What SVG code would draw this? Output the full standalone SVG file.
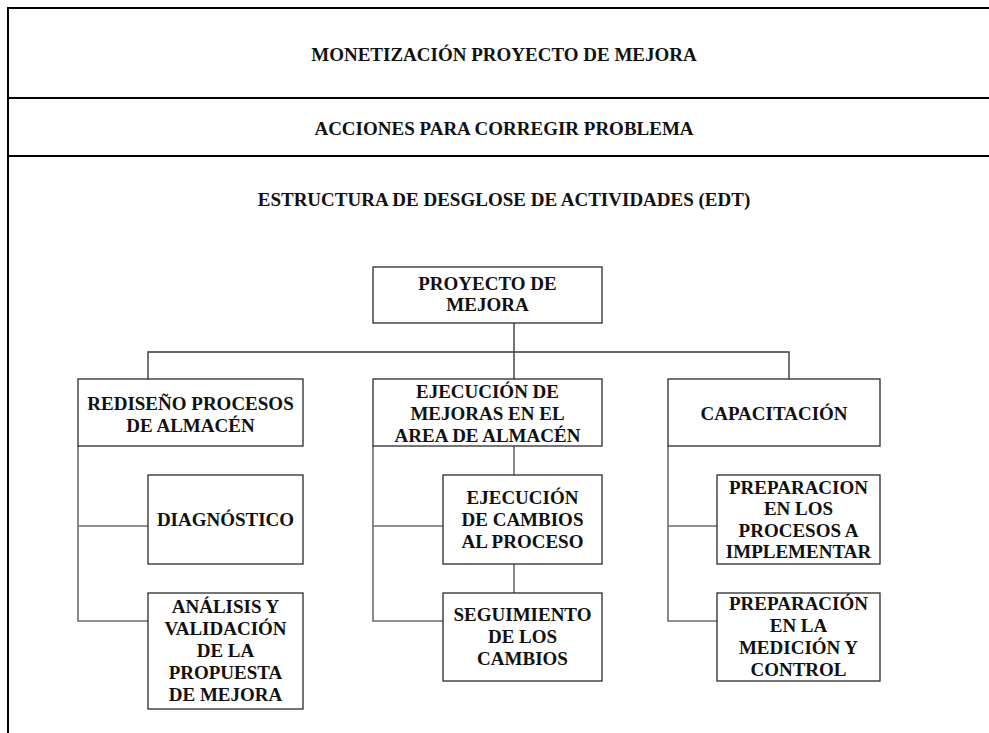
<svg xmlns="http://www.w3.org/2000/svg" width="989" height="733" viewBox="0 0 989 733">
<style>
.frame{stroke:#000;stroke-width:2;fill:none}
.box{fill:#fff;stroke:#2a2a2a;stroke-width:1.3}
.bus{stroke:#3a3a3a;stroke-width:1.4;fill:none}
.sub{stroke:#6e6e6e;stroke-width:1.6;fill:none}
text{font-family:"Liberation Serif","Times New Roman",serif;font-weight:bold;font-size:19px;fill:#111;text-anchor:middle}
</style>
<rect x="0" y="0" width="989" height="733" fill="#fff"/>
<g id="frame">
<line class="frame" x1="8" y1="8" x2="8" y2="733"/>
<line class="frame" x1="7" y1="8" x2="989" y2="8"/>
<line class="frame" x1="7" y1="98" x2="989" y2="98"/>
<line class="frame" x1="7" y1="156" x2="989" y2="156"/>
</g>
<g id="headers">
<text x="504" y="61">MONETIZACIÓN PROYECTO DE MEJORA</text>
<text x="504" y="135">ACCIONES PARA CORREGIR PROBLEMA</text>
<text x="504" y="206">ESTRUCTURA DE DESGLOSE DE ACTIVIDADES (EDT)</text>
</g>
<g id="connectors">
<path class="bus" d="M514 323 V380 M148 380 V352 H789 V380"/>
<path class="sub" d="M78 446 V621 H148 M78 526 H148"/>
<path class="sub" d="M373 446 V621 H443 M373 526 H443 M514 446 V475 M514 564 V593"/>
<path class="sub" d="M668 446 V621 H717 M668 526 H717"/>
</g>
<g id="n-proyecto">
<rect class="box" x="373" y="267" width="229" height="56"/>
<text x="487.5" y="290">PROYECTO DE</text>
<text x="487.5" y="311">MEJORA</text>
</g>
<g id="n-rediseno">
<rect class="box" x="78" y="379" width="225" height="67"/>
<text x="190.5" y="410">REDISEÑO PROCESOS</text>
<text x="190.5" y="432">DE ALMACÉN</text>
</g>
<g id="n-ejecucion">
<rect class="box" x="373" y="379" width="229" height="67"/>
<text x="487.5" y="398">EJECUCIÓN DE</text>
<text x="487.5" y="420">MEJORAS EN EL</text>
<text x="487.5" y="441.5">AREA DE ALMACÉN</text>
</g>
<g id="n-capacitacion">
<rect class="box" x="668" y="379" width="212" height="67"/>
<text x="774" y="420">CAPACITACIÓN</text>
</g>
<g id="n-diagnostico">
<rect class="box" x="148" y="475" width="155" height="89"/>
<text x="225.5" y="526">DIAGNÓSTICO</text>
</g>
<g id="n-analisis">
<rect class="box" x="148" y="593" width="155" height="116"/>
<text x="225.5" y="613">ANÁLISIS Y</text>
<text x="225.5" y="635">VALIDACIÓN</text>
<text x="225.5" y="657">DE LA</text>
<text x="225.5" y="679">PROPUESTA</text>
<text x="225.5" y="701">DE MEJORA</text>
</g>
<g id="n-cambios">
<rect class="box" x="443" y="475" width="159" height="89"/>
<text x="522.5" y="504">EJECUCIÓN</text>
<text x="522.5" y="526">DE CAMBIOS</text>
<text x="522.5" y="547.5">AL PROCESO</text>
</g>
<g id="n-seguimiento">
<rect class="box" x="443" y="593" width="159" height="88"/>
<text x="522.5" y="621">SEGUIMIENTO</text>
<text x="522.5" y="643">DE LOS</text>
<text x="522.5" y="665">CAMBIOS</text>
</g>
<g id="n-prep-procesos">
<rect class="box" x="717" y="475" width="163" height="89"/>
<text x="798.5" y="493.5">PREPARACION</text>
<text x="798.5" y="515">EN LOS</text>
<text x="798.5" y="536.5">PROCESOS A</text>
<text x="798.5" y="558">IMPLEMENTAR</text>
</g>
<g id="n-prep-medicion">
<rect class="box" x="717" y="593" width="163" height="88"/>
<text x="798.5" y="610">PREPARACIÓN</text>
<text x="798.5" y="632">EN LA</text>
<text x="798.5" y="654">MEDICIÓN Y</text>
<text x="798.5" y="676">CONTROL</text>
</g>
</svg>
